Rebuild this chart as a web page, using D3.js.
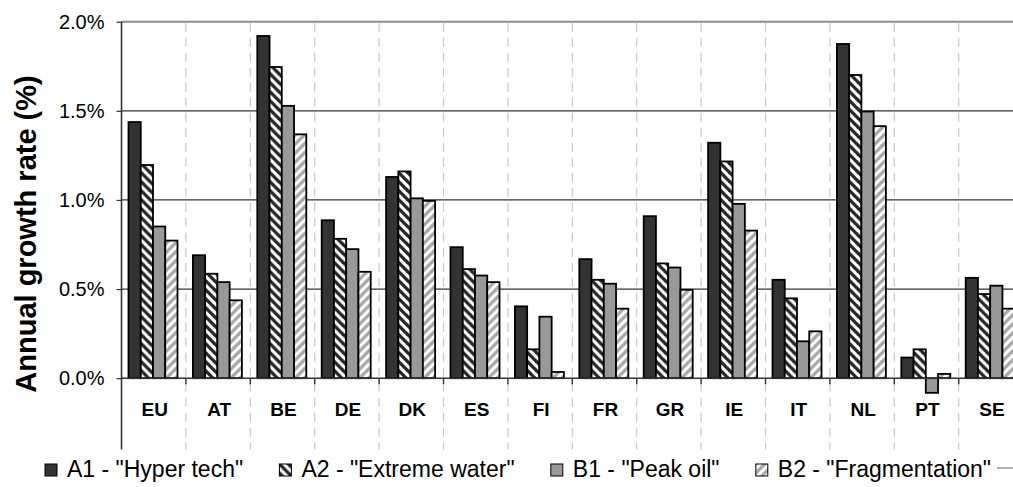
<!DOCTYPE html>
<html>
<head>
<meta charset="utf-8">
<script src="https://cdn.jsdelivr.net/npm/d3@7"></script>
<style>
  html, body { margin: 0; padding: 0; background: #fff; }
  svg { display: block; font-family: "Liberation Sans", Arial, sans-serif; }
</style>
</head>
<body>
<svg id="chart" width="1013" height="487"></svg>
<script>
const categories = ["EU","AT","BE","DE","DK","ES","FI","FR","GR","IE","IT","NL","PT","SE"];
const seriesNames = ['A1 - "Hyper tech"', 'A2 - "Extreme water"', 'B1 - "Peak oil"', 'B2 - "Fragmentation"'];
const a1 = [1.437, 0.69, 1.92, 0.886, 1.129, 0.735, 0.403, 0.668, 0.909, 1.321, 0.552, 1.875, 0.116, 0.563];
const a2 = [1.196, 0.586, 1.746, 0.782, 1.16, 0.612, 0.162, 0.552, 0.644, 1.216, 0.448, 1.701, 0.162, 0.472];
const b1 = [0.851, 0.539, 1.528, 0.724, 1.009, 0.576, 0.345, 0.53, 0.621, 0.978, 0.207, 1.496, -0.082, 0.519];
const b2 = [0.772, 0.437, 1.368, 0.597, 0.995, 0.539, 0.035, 0.39, 0.496, 0.828, 0.263, 1.414, 0.024, 0.39];
const yTicks = [0, 0.5, 1.0, 1.5, 2.0];
const yTickLabels = ["0.0%", "0.5%", "1.0%", "1.5%", "2.0%"];

const seriesValues = [a1, a2, b1, b2];
const fills = ["#333333", "url(#patA2)", "#999999", "url(#patB2)"];

const svg = d3.select("#chart");
const defs = svg.append("defs");

function stripePattern(id, color, dir) {
  const s = 9;
  const p = defs.append("pattern").attr("id", id)
    .attr("patternUnits", "userSpaceOnUse").attr("width", s).attr("height", s);
  p.append("rect").attr("width", s).attr("height", s).attr("fill", "#fff");
  const g = p.append("g").attr("stroke", color).attr("stroke-width", 3.3).attr("stroke-linecap", "square");
  if (dir === "back") {
    g.append("line").attr("x1", 0).attr("y1", 0).attr("x2", s).attr("y2", s);
    g.append("line").attr("x1", -s/2).attr("y1", s/2).attr("x2", s/2).attr("y2", s*1.5);
    g.append("line").attr("x1", s/2).attr("y1", -s/2).attr("x2", s*1.5).attr("y2", s/2);
  } else {
    g.append("line").attr("x1", 0).attr("y1", s).attr("x2", s).attr("y2", 0);
    g.append("line").attr("x1", -s/2).attr("y1", s/2).attr("x2", s/2).attr("y2", -s/2);
    g.append("line").attr("x1", s/2).attr("y1", s*1.5).attr("x2", s*1.5).attr("y2", s/2);
  }
}
stripePattern("patA2", "#262626", "back");
stripePattern("patB2", "#a8a8a8", "fwd");

const left = 121.5, bandW = 64.4;
const x = d3.scaleBand().domain(categories).range([left, left + bandW * categories.length]).padding(0);
const xs = d3.scaleBand().domain(d3.range(4)).range([7, 56]).padding(0);
const y = d3.scaleLinear().domain([-0.4, 2.0]).range([449.5, 21.7]);

// horizontal gridlines
svg.append("g").selectAll("line").data(yTicks.filter(d => d > 0 && d < 2))
  .join("line")
  .attr("x1", left).attr("x2", 1013)
  .attr("y1", d => y(d)).attr("y2", d => y(d))
  .attr("stroke", "#333").attr("stroke-width", 1.3);
svg.append("line").attr("x1", left).attr("x2", 1013)
  .attr("y1", y(2.0)).attr("y2", y(2.0))
  .attr("stroke", "#8c8c8c").attr("stroke-width", 2);

// vertical dashed gridlines at category boundaries
svg.append("g").selectAll("line").data(categories.slice(1))
  .join("line")
  .attr("x1", d => x(d)).attr("x2", d => x(d))
  .attr("y1", y(2.0) + 1).attr("y2", y(-0.4))
  .attr("stroke", "#c8c8c8").attr("stroke-width", 1.2)
  .attr("stroke-dasharray", "9,6");

// bars
const groups = svg.append("g").selectAll("g").data(categories).join("g")
  .attr("transform", d => `translate(${x(d)},0)`);
groups.selectAll("rect")
  .data((c, i) => seriesValues.map((vals, s) => ({ s, v: vals[i] })))
  .join("rect")
  .attr("x", d => xs(d.s))
  .attr("width", xs.bandwidth())
  .attr("y", d => y(Math.max(0, d.v)))
  .attr("height", d => Math.abs(y(d.v) - y(0)))
  .attr("fill", d => fills[d.s])
  .attr("stroke", "#000").attr("stroke-width", 1.8);

// x axis line at zero
const xAxis = d3.axisBottom(x).tickSize(0).tickFormat("");
svg.append("g").attr("transform", `translate(0,${y(0)})`).call(xAxis)
  .call(g => g.select(".domain").attr("d", `M${left},0H1013`).attr("stroke", "#333").attr("stroke-width", 1.6));
// x tick marks at boundaries
svg.append("g").selectAll("line").data(categories.slice(1))
  .join("line")
  .attr("x1", d => x(d)).attr("x2", d => x(d))
  .attr("y1", y(0)).attr("y2", y(0) + 6)
  .attr("stroke", "#333").attr("stroke-width", 1.4);
// category labels
svg.append("g").selectAll("text").data(categories)
  .join("text")
  .attr("x", d => x(d) + bandW / 2 + 1)
  .attr("y", 416)
  .attr("text-anchor", "middle")
  .attr("font-weight", "bold")
  .attr("font-size", 19)
  .attr("fill", "#000")
  .text(d => d);

// y axis
const yAxis = d3.axisLeft(y).tickValues(yTicks).tickSize(5).tickPadding(12)
  .tickFormat((d, i) => yTickLabels[i]);
svg.append("g").attr("transform", `translate(${left},0)`).call(yAxis)
  .call(g => g.select(".domain").attr("d", `M0,${y(2.0)}V${y(-0.4)}`).attr("stroke", "#333").attr("stroke-width", 1.6))
  .call(g => g.selectAll(".tick line").attr("stroke", "#333").attr("stroke-width", 1.2))
  .call(g => g.selectAll(".tick text").attr("font-size", 20).attr("fill", "#000")
    .attr("font-family", '"Liberation Sans", Arial, sans-serif'));

// y title
svg.append("text")
  .attr("transform", "translate(36,234) rotate(-90)")
  .attr("text-anchor", "middle")
  .attr("font-weight", "bold")
  .attr("font-size", 29)
  .attr("fill", "#000")
  .text("Annual growth rate (%)");

// legend: sequential items spread from x=45 to x=991
const lg = svg.append("g").selectAll("g").data(seriesNames).join("g");
lg.append("rect").attr("width", 12).attr("height", 12).attr("y", 0)
  .attr("fill", (d, i) => fills[i]).attr("stroke", "#000").attr("stroke-width", 1);
lg.append("text").attr("x", 22).attr("y", 12.5)
  .attr("font-size", 23).attr("fill", "#000")
  .text(d => d);
const widths = lg.nodes().map(n => 22 + n.querySelector("text").getComputedTextLength());
const legStart = 45, legEnd = 991;
const gap = (legEnd - legStart - d3.sum(widths)) / (widths.length - 1);
let cx = legStart;
lg.each(function(d, i) {
  d3.select(this).attr("transform", `translate(${cx},464)`);
  cx += widths[i] + gap;
});
svg.append("line").attr("x1", 997).attr("x2", 1013).attr("y1", 468).attr("y2", 468)
  .attr("stroke", "#999").attr("stroke-width", 1.5);
</script>
</body>
</html>
